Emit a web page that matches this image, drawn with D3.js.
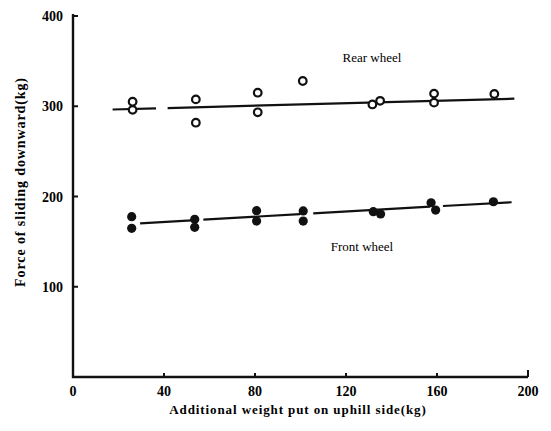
<!DOCTYPE html>
<html>
<head>
<meta charset="utf-8">
<script src="https://cdn.jsdelivr.net/npm/d3@7"></script>
<style>
  body { margin: 0; background: #fff; }
  svg { display: block; font-family: "Liberation Serif", "DejaVu Serif", serif; }
</style>
</head>
<body>
<figure id="chart" style="margin:0"></figure>
<script>
// values
const rearX = [26.2, 26.2, 54, 54, 81.2, 81.2, 101, 131.6, 135, 158.7, 158.7, 185.2];
const rearY = [305, 296, 307.6, 281.8, 315, 293.3, 328, 302, 306, 314, 304, 313.6];
const frontX = [25.8, 25.8, 53.5, 53.5, 80.7, 80.7, 101.2, 101.2, 132, 135.2, 157.4, 159.4, 184.8];
const frontY = [177.6, 164.7, 174.7, 165.9, 184.3, 172.8, 184, 172.8, 183.2, 180.6, 193.1, 185, 194.2];
// fitted lines, drawn in broken pieces as in the print
const rearLine = [[[17.4, 296.4], [36.5, 297.7]], [[41.6, 298], [194, 308.4]]];
const frontLine = [[[29.5, 170.3], [52.2, 173.6]], [[57.3, 174.4], [99.8, 180.4]],
                   [[105.6, 181.3], [157, 188.7]], [[162.6, 189.5], [192.8, 193.6]]];
const xTicks = [0, 40, 80, 120, 160, 200];
const yTicks = [100, 200, 300, 400];

const width = 551, height = 431;
const svg = d3.select("figure#chart")
  .append("svg")
  .attr("width", width)
  .attr("height", height);

const x = d3.scaleLinear().domain([0, 200]).range([73, 528]);
const y = d3.scaleLinear().domain([0, 400]).range([377, 16]);

// axes
const axisColor = "#111";
svg.append("path")
  .attr("d", "M" + x(0) + "," + (y(400) - 2) + "V" + y(0) + "H" + x(200))
  .attr("fill", "none")
  .attr("stroke", axisColor)
  .attr("stroke-width", 2.4);

svg.selectAll(".ytick")
  .data(yTicks)
  .enter()
  .append("line")
  .attr("x1", x(0)).attr("x2", x(0) + 5)
  .attr("y1", d => y(d)).attr("y2", d => y(d))
  .attr("stroke", axisColor).attr("stroke-width", 2);

svg.selectAll(".xtick")
  .data(xTicks.slice(1))
  .enter()
  .append("line")
  .attr("x1", d => x(d)).attr("x2", d => x(d))
  .attr("y1", y(0)).attr("y2", d => y(0) - (d === 200 ? 7 : 4))
  .attr("stroke", axisColor).attr("stroke-width", 2);

svg.selectAll(".ylab")
  .data(yTicks)
  .enter()
  .append("text")
  .attr("x", x(0) - 10)
  .attr("y", d => y(d) + 5)
  .attr("text-anchor", "end")
  .style("font-size", "14px")
  .style("font-weight", "bold")
  .text(d => d);

svg.selectAll(".xlab")
  .data(xTicks)
  .enter()
  .append("text")
  .attr("x", d => x(d))
  .attr("y", 396)
  .attr("text-anchor", "middle")
  .style("font-size", "14px")
  .style("font-weight", "bold")
  .text(d => d);

svg.append("text")
  .attr("x", 298).attr("y", 414)
  .attr("text-anchor", "middle")
  .style("font-size", "13px")
  .style("font-weight", "bold")
  .style("letter-spacing", "0.9px")
  .text("Additional weight put on uphill side(kg)");

svg.append("text")
  .attr("transform", "translate(25,182) rotate(-90)")
  .attr("text-anchor", "middle")
  .style("font-size", "14px")
  .style("font-weight", "bold")
  .style("letter-spacing", "0.9px")
  .text("Force of sliding downward(kg)");

// lines
const line = d3.line().x(d => x(d[0])).y(d => y(d[1]));
svg.append("g").selectAll("path")
  .data(rearLine.concat(frontLine))
  .enter()
  .append("path")
  .attr("d", line)
  .attr("fill", "none")
  .attr("stroke", "#111")
  .attr("stroke-width", 2.2);

// points
const rear = rearX.map((v, i) => ({x: v, y: rearY[i]}));
const front = frontX.map((v, i) => ({x: v, y: frontY[i]}));

svg.append("g").selectAll("circle")
  .data(rear)
  .enter()
  .append("circle")
  .attr("cx", d => x(d.x))
  .attr("cy", d => y(d.y))
  .attr("r", 3.8)
  .attr("fill", "#fff")
  .attr("stroke", "#111")
  .attr("stroke-width", 2.2);

svg.append("g").selectAll("circle")
  .data(front)
  .enter()
  .append("circle")
  .attr("cx", d => x(d.x))
  .attr("cy", d => y(d.y))
  .attr("r", 4.6)
  .attr("fill", "#111");

// labels
svg.append("text")
  .attr("x", 372).attr("y", 62)
  .attr("text-anchor", "middle")
  .style("font-size", "13px")
  .text("Rear wheel");

svg.append("text")
  .attr("x", 362).attr("y", 251)
  .attr("text-anchor", "middle")
  .style("font-size", "13px")
  .text("Front wheel");
</script>
</body>
</html>
